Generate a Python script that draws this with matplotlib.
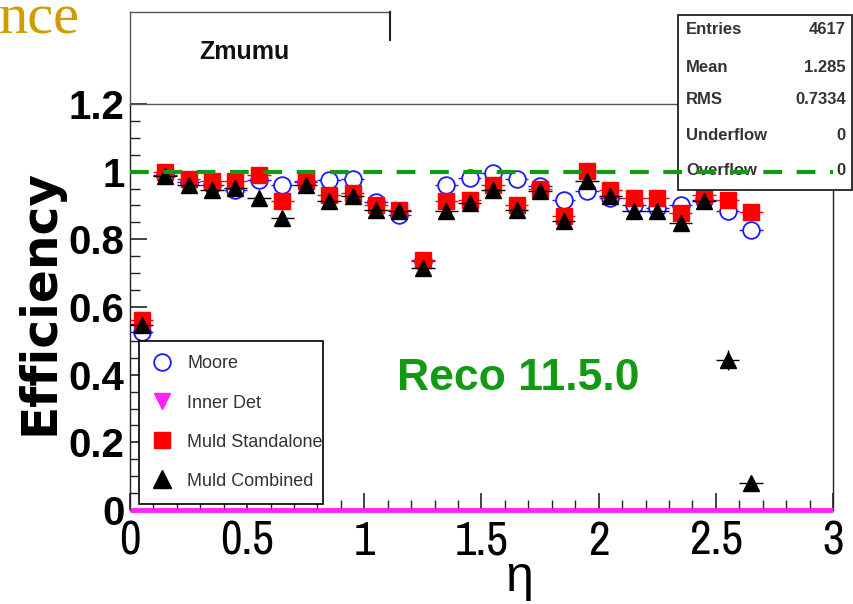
import matplotlib
matplotlib.use("Agg")
import matplotlib.pyplot as plt
from matplotlib import font_manager
from matplotlib.font_manager import FontProperties
from matplotlib.lines import Line2D
from matplotlib.patches import Rectangle
from matplotlib.ticker import MultipleLocator
import numpy as np

# ---------------- data ----------------
eta = [0.05, 0.15, 0.25, 0.35, 0.45, 0.55, 0.65, 0.75, 0.85, 0.95,
       1.05, 1.15, 1.25, 1.35, 1.45, 1.55, 1.65, 1.75, 1.85, 1.95,
       2.05, 2.15, 2.25, 2.35, 2.45, 2.55, 2.65]
moore = [0.525, 0.990, 0.970, 0.960, 0.947, 0.976, 0.962, 0.970, 0.976, 0.978,
         0.910, 0.873, 0.735, 0.962, 0.981, 0.996, 0.978, 0.957, 0.917, 0.942,
         0.922, 0.902, 0.893, 0.902, 0.917, 0.883, 0.828]
standalone = [0.562, 1.000, 0.978, 0.971, 0.971, 0.991, 0.912, 0.971, 0.932, 0.937,
              0.902, 0.888, 0.740, 0.912, 0.917, 0.962, 0.902, 0.949, 0.868, 1.001,
              0.947, 0.922, 0.922, 0.878, 0.932, 0.917, 0.880]
combined = [0.547, 0.986, 0.960, 0.947, 0.951, 0.922, 0.863, 0.960, 0.912, 0.927,
            0.888, 0.885, 0.715, 0.883, 0.907, 0.947, 0.888, 0.942, 0.853, 0.971,
            0.927, 0.883, 0.883, 0.848, 0.912, 0.444, 0.079]
combined_err = [0.01] * 25 + [0.03, 0.01]
eta_inner = [0.05, 0.15, 0.25, 0.35, 0.45, 0.55, 0.65, 0.75, 0.85, 0.95,
             1.05, 1.15, 1.25, 1.35, 1.45, 1.55, 1.65, 1.75, 1.85, 1.95,
             2.05, 2.15, 2.25, 2.35, 2.45, 2.55, 2.65, 2.75, 2.85, 2.95]
inner_det = [0.0] * 30
bin_half_width = 0.05
reference_eff = 1.0

series_labels = ["Moore", "Inner Det", "Muld Standalone", "Muld Combined"]
title_text = "Zmumu"
stats_names = ["Entries", "Mean", "RMS", "Underflow", "Overflow"]
stats_values = ["4617", "1.285", "0.7334", "0", "0"]
x_ticks = [0, 0.5, 1, 1.5, 2, 2.5, 3]
x_ticklabels = ["0", "0.5", "1", "1.5", "2", "2.5", "3"]
y_ticks = [0, 0.2, 0.4, 0.6, 0.8, 1.0, 1.2]
y_ticklabels = ["0", "0.2", "0.4", "0.6", "0.8", "1", "1.2"]

# ---------------- fonts ----------------
avail = {f.name for f in font_manager.fontManager.ttflist}
SANS = "Liberation Sans" if "Liberation Sans" in avail else "DejaVu Sans"
SERIF = "Liberation Serif" if "Liberation Serif" in avail else "DejaVu Serif"
narrow_names = [n for n in avail if ("Narrow" in n or "Condensed" in n)]
x_font = FontProperties(family=SANS, size=32)
if "Liberation Sans Narrow" in avail:
    x_font = FontProperties(family="Liberation Sans Narrow", size=34)
elif narrow_names:
    x_font = FontProperties(family=sorted(narrow_names)[0], size=34)
else:
    try:
        p = font_manager.findfont(FontProperties(family="DejaVu Sans", stretch="condensed"),
                                  fallback_to_default=False)
        if "Condensed" in p:
            x_font = FontProperties(fname=p, size=33)
    except Exception:
        pass

W, H = 854, 604
fig = plt.figure(figsize=(W / 100, H / 100), dpi=100)
fig.patch.set_facecolor("white")

def fx(px):
    return px / W

def fy(py):
    return 1 - py / H

ax = fig.add_axes([fx(130), fy(510), fx(833) - fx(130), fy(104) - fy(510)])
ax.set_xlim(0, 3)
ax.set_ylim(0, 1.2)

for s in ["left", "right", "top", "bottom"]:
    ax.spines[s].set_linewidth(1.0)
    ax.spines[s].set_color("#222222")
ax.spines["top"].set_color("#555555")

ax.set_xticks(x_ticks)
ax.set_yticks(y_ticks)
ax.set_xticklabels(x_ticklabels)
ax.set_yticklabels(y_ticklabels)
ax.xaxis.set_minor_locator(MultipleLocator(0.1))
ax.yaxis.set_minor_locator(MultipleLocator(0.05))
ax.tick_params(axis="both", which="both", direction="in", top=False, right=False, color="#222222")
ax.tick_params(axis="x", which="major", length=12, width=1.2, pad=7)
ax.tick_params(axis="x", which="minor", length=7, width=1.0)
ax.tick_params(axis="y", which="major", length=12, width=1.2, pad=4)
ax.tick_params(axis="y", which="minor", length=7, width=1.0)
for lab in ax.get_xticklabels():
    lab.set_fontproperties(x_font)
for lab in ax.get_yticklabels():
    lab.set_fontfamily(SANS)
    lab.set_fontweight("bold")
    lab.set_fontsize(29)

# Inner Det (all zero) - magenta
ax.errorbar(eta_inner, inner_det, xerr=bin_half_width, fmt="none", ecolor="#ff22ff",
            elinewidth=3.5, capsize=0, zorder=6, clip_on=False)

# reference line at 1
ax.axhline(reference_eff, color="#119911", lw=3, ls=(0, (4.5, 3.5)), zorder=8, clip_on=False)

# series
ax.errorbar(eta, moore, xerr=bin_half_width, yerr=0.01, fmt="o", mfc="white", mec="#1a1aff",
            mew=1.3, ms=12, ecolor="#1a1aff", elinewidth=1.0, capsize=0, zorder=3)
ax.errorbar(eta, standalone, xerr=bin_half_width, yerr=0.01, fmt="s", mfc="#ff0000", mec="#ff0000",
            ms=12, ecolor="#ff0000", elinewidth=1.0, capsize=0, zorder=4)
ax.errorbar(eta, combined, xerr=bin_half_width, yerr=combined_err, fmt="^", mfc="black", mec="black",
            ms=12, ecolor="black", elinewidth=1.0, capsize=0, zorder=5)

ax.text(1.655, 0.39, "Reco 11.5.0", color="#139a13", fontsize=32, fontweight="bold",
        family=SANS, ha="center", va="center", zorder=9)

# legend
handles = [
    Line2D([], [], ls="none", marker="o", mfc="white", mec="#1a1aff", mew=1.3, ms=12),
    Line2D([], [], ls="none", marker="v", mfc="#ff22ff", mec="#ff22ff", ms=12),
    Line2D([], [], ls="none", marker="s", mfc="#ff0000", mec="#ff0000", ms=12),
    Line2D([], [], ls="none", marker="^", mfc="black", mec="black", ms=13),
]
leg = ax.legend(handles, series_labels, loc="upper left",
                bbox_to_anchor=(fx(139), fy(342), fx(323) - fx(139), 0.001),
                bbox_transform=fig.transFigure, mode="expand",
                prop={"family": SANS, "size": 13}, frameon=True, fancybox=False,
                edgecolor="black", framealpha=1, borderpad=0.78, labelspacing=1.22,
                handlelength=1.0, handletextpad=0.9, borderaxespad=0)
leg.get_frame().set_linewidth(1.2)
leg.set_zorder(10)
for t in leg.get_texts():
    t.set_color("#333333")

# title pave lines (figure coords)
fig.add_artist(Line2D([fx(130), fx(130)], [fy(12), fy(104)], color="#555555", lw=1.0))
fig.add_artist(Line2D([fx(130), fx(390)], [fy(12), fy(12)], color="#555555", lw=1.0))
fig.add_artist(Line2D([fx(390), fx(390)], [fy(12), fy(40)], color="#222222", lw=1.5))
fig.text(fx(244), fy(52), title_text, fontsize=18, fontweight="bold", family=SANS,
         ha="center", va="center", color="#111111")

# stats box
stat_box = Rectangle((fx(678), fy(190)), fx(852) - fx(678), fy(15) - fy(190),
                     transform=fig.transFigure, facecolor="white", edgecolor="#222222",
                     lw=1.3, zorder=7, clip_on=False)
ax.add_artist(stat_box)
stat_y = [30, 67, 100, 135, 171]
for name, val, py in zip(stats_names, stats_values, stat_y):
    ax.text(fx(686), fy(py), name, transform=fig.transFigure, fontsize=12, fontweight="bold",
            family=SANS, ha="left", va="center", color="#333333", zorder=7.5)
    ax.text(fx(846), fy(py), val, transform=fig.transFigure, fontsize=12, fontweight="bold",
            family=SANS, ha="right", va="center", color="#333333", zorder=7.5)

# axis labels
fig.text(fx(40), fy(302), "Efficiency", rotation=90, fontsize=35, fontweight="bold",
         family="DejaVu Sans", ha="center", va="center", color="black")
fig.text(fx(519), fy(578), "η", fontsize=36, family=SANS, ha="center", va="center",
         color="black")

# cropped slide title fragment
fig.text(fx(-1), fy(33), "nce", fontsize=42, family=SERIF, color="#d09a00",
         ha="left", va="baseline")

fig.savefig("out.png", dpi=100)
